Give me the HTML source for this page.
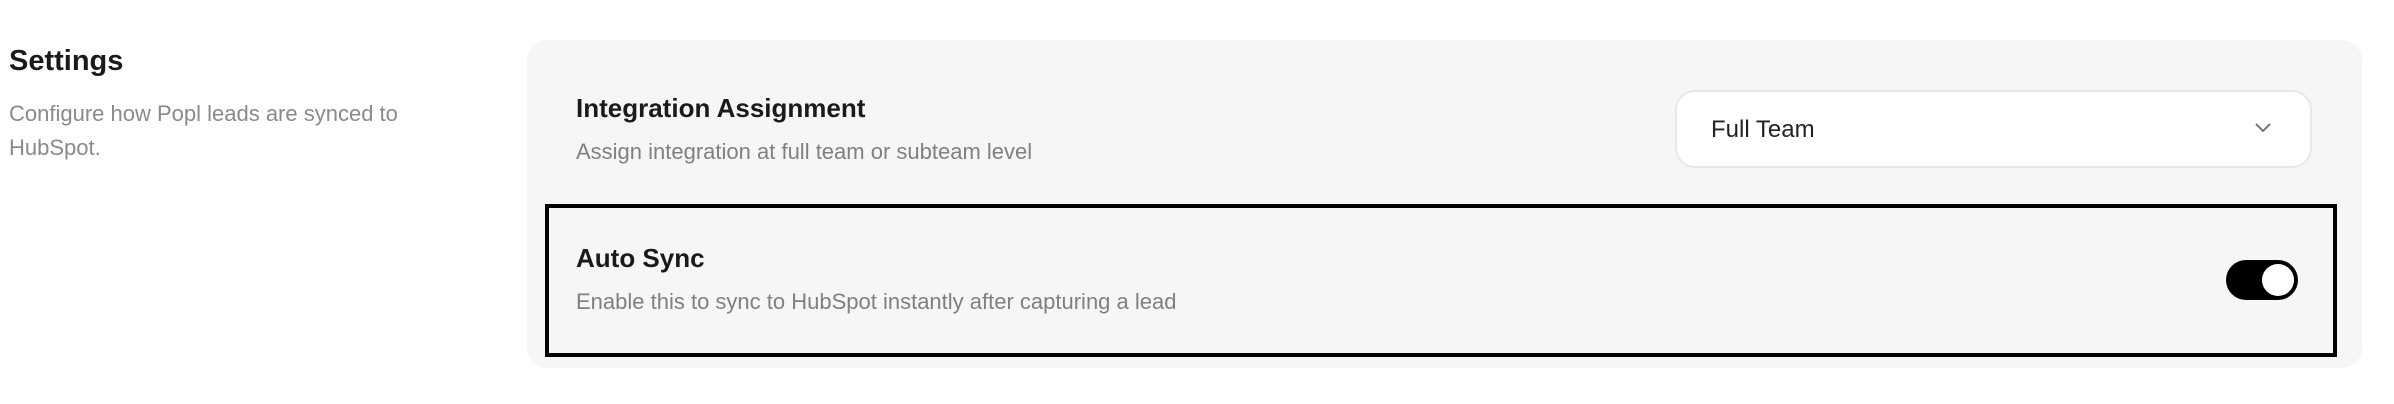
<!DOCTYPE html>
<html><head><meta charset="utf-8"><style>
body{margin:0;width:2394px;height:404px;background:#fff;font-family:"Liberation Sans",sans-serif;position:relative;overflow:hidden}
.a{position:absolute;white-space:nowrap}
</style></head><body>
<div class="a" style="left:9px;top:45px;font-size:29px;font-weight:600;color:#1a1a1a">Settings</div>
<div class="a" style="left:9px;top:97px;font-size:22px;line-height:34px;color:#8a8a8a;white-space:normal;width:470px">Configure how Popl leads are synced to HubSpot.</div>
<div class="a" style="left:527px;top:40px;width:1835px;height:328px;background:#f6f6f6;border-radius:20px"></div>
<div class="a" style="left:576px;top:93px;font-size:26px;font-weight:600;color:#1a1a1a">Integration Assignment</div>
<div class="a" style="left:576px;top:139px;font-size:22px;color:#808080">Assign integration at full team or subteam level</div>
<div class="a" style="left:1675px;top:90px;width:633px;height:74px;background:#fff;border:2px solid #e8e8e8;border-radius:20px"></div>
<div class="a" style="left:1711px;top:116px;font-size:24px;color:#222">Full Team</div>
<svg class="a" style="left:2254px;top:122px" width="18" height="12"><polyline points="2,2 9,9 16,2" fill="none" stroke="#777" stroke-width="2"/></svg>
<div class="a" style="left:545px;top:204px;width:1784px;height:145px;border:4px solid #000"></div>
<div class="a" style="left:576px;top:243px;font-size:26px;font-weight:600;color:#1a1a1a">Auto Sync</div>
<div class="a" style="left:576px;top:289px;font-size:22px;color:#808080">Enable this to sync to HubSpot instantly after capturing a lead</div>
<div class="a" style="left:2226px;top:260px;width:72px;height:40px;background:#000;border-radius:20px"></div>
<div class="a" style="left:2262px;top:264px;width:32px;height:32px;background:#fff;border-radius:50%"></div>
</body></html>
